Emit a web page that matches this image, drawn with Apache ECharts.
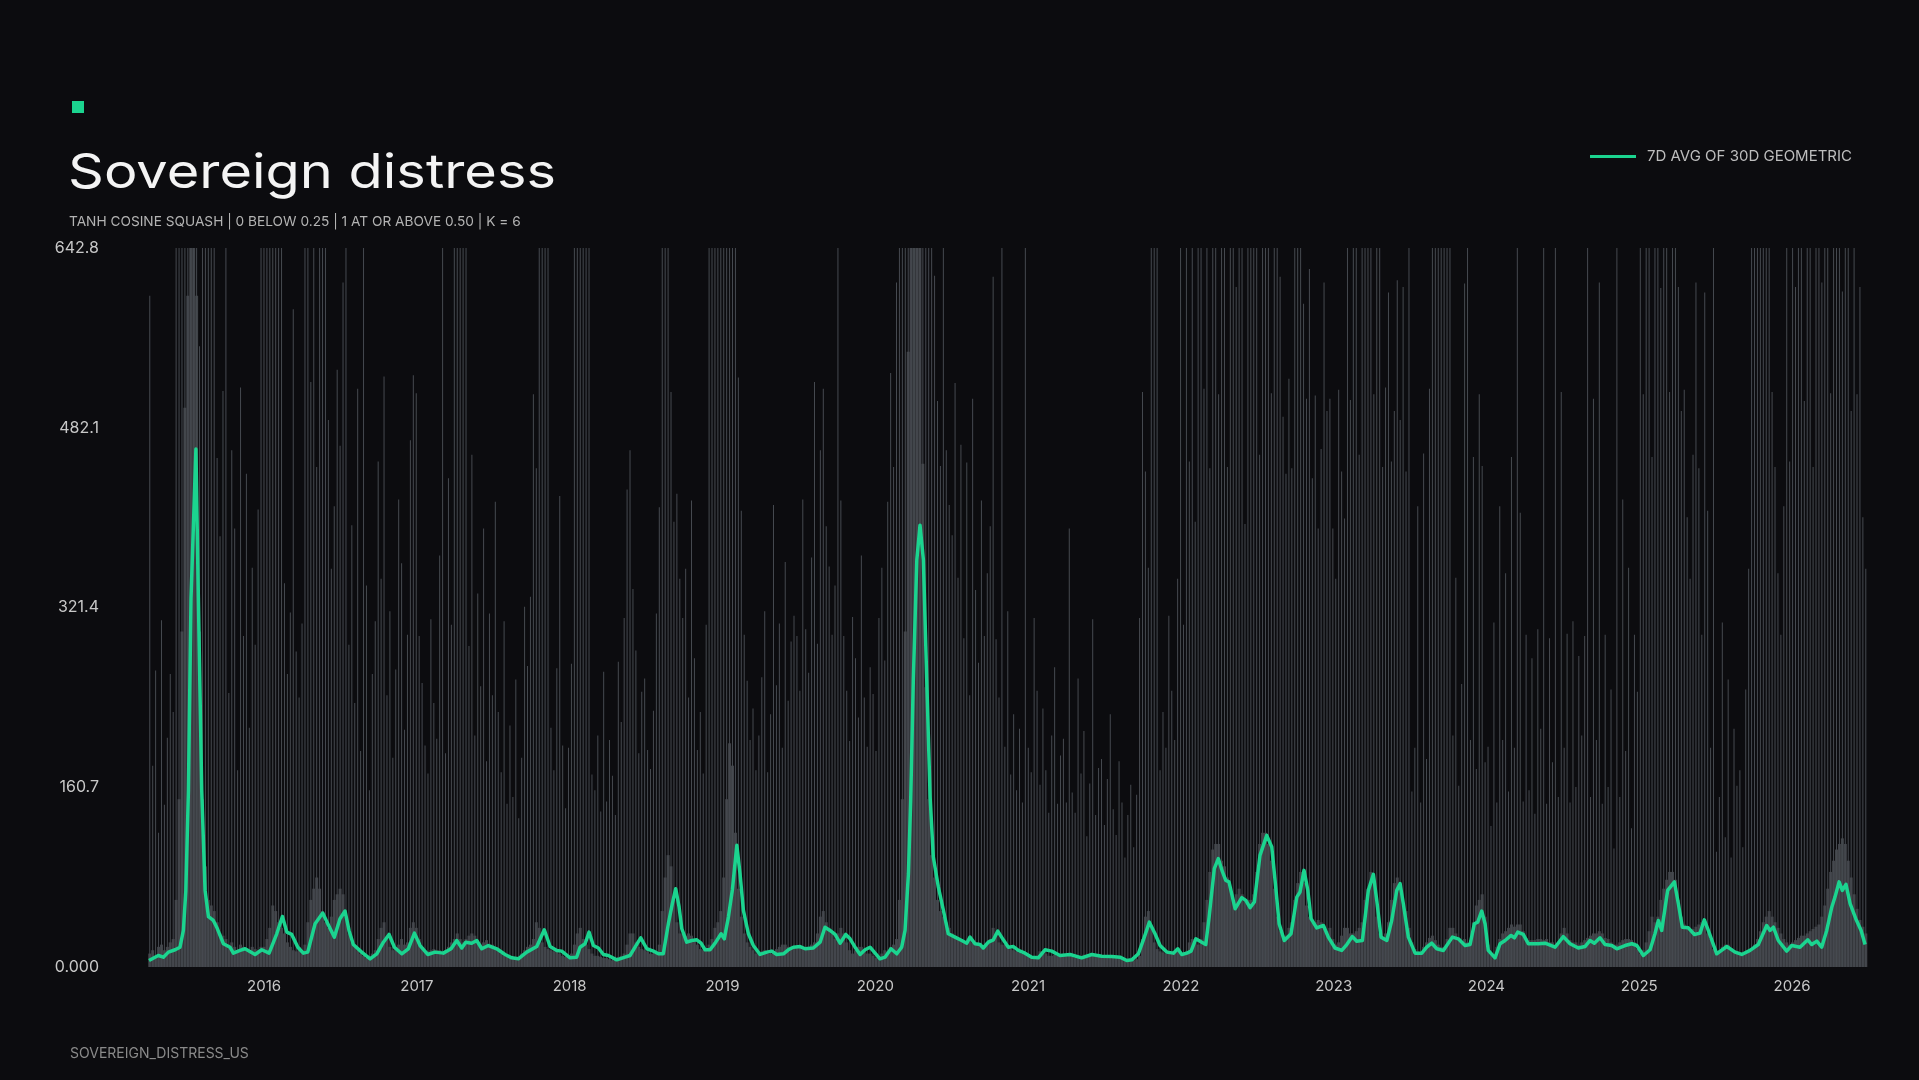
<!DOCTYPE html>
<html>
<head>
<meta charset="utf-8">
<script src="https://cdn.jsdelivr.net/npm/echarts@6/dist/echarts.min.js"></script>
<style>
html,body{margin:0;padding:0;background:#0c0c0f;}
#chart{width:1919px;height:1080px;}
</style>
</head>
<body>
<div id="chart"></div>
<script>
// ---- DATA (decimal years on x) ----
const yTicks = [0, 160.7, 321.4, 482.1, 642.8];
const yearLabels = [2016, 2017, 2018, 2019, 2020, 2021, 2022, 2023, 2024, 2025, 2026];
const xStart = 2015.247, xEnd = 2026.484;

// 7D avg of 30D geometric (green line), read at turning points
const lineT = [2015.247,2015.308,2015.341,2015.374,2015.418,2015.450,2015.472,2015.488,2015.505,2015.522,2015.554,2015.570,2015.592,2015.614,2015.636,2015.668,2015.690,2015.734,2015.777,2015.799,2015.843,2015.876,2015.941,2015.985,2016.033,2016.083,2016.120,2016.149,2016.181,2016.221,2016.257,2016.286,2016.334,2016.384,2016.417,2016.460,2016.497,2016.530,2016.556,2016.584,2016.639,2016.694,2016.738,2016.781,2016.818,2016.853,2016.901,2016.944,2016.984,2017.021,2017.071,2017.119,2017.173,2017.224,2017.261,2017.294,2017.320,2017.359,2017.392,2017.425,2017.468,2017.523,2017.577,2017.621,2017.664,2017.719,2017.785,2017.834,2017.872,2017.916,2017.948,2018.003,2018.046,2018.068,2018.101,2018.127,2018.155,2018.188,2018.221,2018.253,2018.308,2018.363,2018.395,2018.428,2018.465,2018.505,2018.548,2018.581,2018.613,2018.646,2018.672,2018.694,2018.716,2018.734,2018.766,2018.799,2018.832,2018.860,2018.886,2018.919,2018.952,2018.991,2019.012,2019.039,2019.065,2019.094,2019.115,2019.137,2019.170,2019.202,2019.246,2019.290,2019.323,2019.355,2019.399,2019.431,2019.464,2019.508,2019.541,2019.595,2019.639,2019.671,2019.704,2019.737,2019.770,2019.807,2019.835,2019.868,2019.901,2019.933,2019.966,2019.999,2020.031,2020.064,2020.103,2020.141,2020.173,2020.195,2020.217,2020.232,2020.249,2020.272,2020.293,2020.315,2020.337,2020.359,2020.380,2020.413,2020.446,2020.478,2020.522,2020.566,2020.599,2020.620,2020.653,2020.686,2020.707,2020.740,2020.773,2020.802,2020.838,2020.871,2020.904,2020.937,2020.980,2021.024,2021.067,2021.111,2021.155,2021.209,2021.275,2021.351,2021.417,2021.482,2021.548,2021.602,2021.646,2021.679,2021.722,2021.761,2021.794,2021.831,2021.864,2021.908,2021.951,2021.980,2022.006,2022.039,2022.067,2022.098,2022.137,2022.163,2022.185,2022.219,2022.245,2022.272,2022.294,2022.315,2022.355,2022.399,2022.425,2022.453,2022.481,2022.518,2022.562,2022.595,2022.621,2022.643,2022.677,2022.721,2022.759,2022.780,2022.806,2022.831,2022.852,2022.889,2022.933,2022.965,2023.009,2023.053,2023.086,2023.122,2023.151,2023.188,2023.227,2023.260,2023.282,2023.310,2023.348,2023.380,2023.413,2023.435,2023.456,2023.489,2023.533,2023.577,2023.609,2023.642,2023.675,2023.718,2023.777,2023.816,2023.860,2023.893,2023.921,2023.943,2023.969,2023.991,2024.012,2024.056,2024.089,2024.122,2024.161,2024.183,2024.205,2024.241,2024.274,2024.340,2024.384,2024.449,2024.503,2024.547,2024.601,2024.645,2024.678,2024.706,2024.743,2024.776,2024.820,2024.853,2024.907,2024.951,2024.984,2025.027,2025.071,2025.103,2025.125,2025.147,2025.186,2025.230,2025.256,2025.282,2025.321,2025.361,2025.398,2025.426,2025.452,2025.507,2025.573,2025.627,2025.671,2025.725,2025.779,2025.834,2025.856,2025.878,2025.910,2025.965,2025.998,2026.052,2026.103,2026.129,2026.162,2026.194,2026.227,2026.260,2026.281,2026.308,2026.329,2026.353,2026.380,2026.417,2026.452,2026.478];
const lineV = [5.8,10.3,8.8,13.3,15.4,17.7,32.7,68,158,330,463,330,158,68.5,45,41.6,35.6,20.8,17.7,12.4,14.8,16.3,11.2,15.4,12.4,29.7,45.2,31.2,29.1,17.7,12.4,13.3,38.7,48.2,38.7,26.7,43.2,50,32.7,20.1,13.3,7.3,11.8,22.2,29.1,17.7,11.8,16.3,30.3,19.2,11.2,13.3,12.4,16.3,23.7,17,22.2,21.3,23.7,16.3,19.2,16.3,11.2,8.2,7.3,13.3,18.3,33.3,18.3,14.8,14.2,8.2,8.8,17.7,20.8,31.2,19.2,17,11.2,10.3,6.4,8.8,10.3,17.7,26.1,16.3,14.2,11.8,11.8,38.7,56.6,70,53.7,34.2,22.2,23.7,24.3,21.3,15.4,15.4,21.3,29.7,25.2,44.6,69.1,108.8,83.4,50.6,29.7,19.2,11.2,13.3,14.2,11.2,11.8,15.4,17.7,18.3,16.3,17,22.2,35.6,32.7,29.1,21.3,29.1,25.2,17.7,11.2,15.4,17.7,12.4,7.3,8.8,16.3,11.8,17.7,32.7,83.4,149,256.5,364,395,364,256.5,152,98.3,71.4,50.6,29.7,26.7,23.7,21.3,26.7,20.8,20.1,17,22.2,24.3,32.1,24.3,17.7,18.3,14.8,12.4,8.8,8.2,15.4,14.2,10.3,11.2,8.2,11.2,9.7,9.4,8.8,5.8,6.4,11.8,26.7,40.1,29.7,19.2,13.3,12.4,16.3,11.2,12.4,14.2,25.2,22.2,20.1,44.6,87.9,96.9,85.2,77.4,76.1,52.1,62,59.6,53,58.1,99.8,117.7,107.3,71.4,38.7,23.7,29.7,62.5,67,86.4,68.5,43.2,35,37.1,26.7,17,14.8,20.1,27.2,23.1,23.7,68.5,82.8,59.6,26.7,23.7,41.6,68.5,74.5,56.6,26.7,12.4,12.4,17.7,21.3,16.3,14.8,26.7,25.2,19.2,20.1,38.7,40.1,50,38.7,14.8,8.2,20.8,23.7,28.2,26.1,31.2,29.1,20.8,20.8,21.3,17.7,27.2,20.8,17,18.3,23.7,21.3,26.1,20.1,19.2,16.3,19.2,20.8,19.2,10.3,15.4,29.7,41.6,32.7,68.5,76.1,56.6,35.6,35,29.1,30.3,42.2,32.7,11.8,18.3,13.3,11.2,14.8,20.1,37.1,32.7,35.6,23.7,14.2,19.2,17.7,24.3,20.1,23.1,17.7,32.7,53.5,62.5,76.1,68.5,73.9,56.6,43.2,32.7,20.1];

// raw daily distress, summarised per week: first week centred at weekStart
const weekStart = 2015.252;
const weekStep = 7 / 365.25;
// highest daily value seen in each week (values above 642.8 are clipped by the axis)
const weekHigh = [
600,180,265,120,310,145,205,262,228,700,700,700,700,
700,700,700,700,555,700,700,700,700,700,455,385,515,
700,245,462,392,176,518,296,441,214,357,288,409,700,
700,700,700,700,700,700,700,343,262,317,588,282,241,
307,700,700,523,700,447,700,700,700,489,356,412,534,
466,612,700,288,395,236,517,193,700,341,158,262,309,
452,347,528,243,318,187,266,418,361,212,297,471,529,
513,296,254,198,173,311,236,204,368,700,191,437,306,
700,700,700,700,700,287,458,207,334,251,392,184,316,
243,416,228,174,309,146,216,152,257,133,187,322,269,
331,512,446,700,700,700,700,214,176,267,421,198,142,
196,271,700,700,700,700,700,700,172,158,207,139,264,
148,203,171,136,273,219,312,427,462,338,283,191,246,
258,194,177,229,316,411,700,700,700,514,398,423,347,
312,356,241,417,276,194,228,173,306,700,700,700,700,
700,700,700,700,700,700,527,408,297,256,203,231,176,
207,259,318,174,226,413,252,307,196,362,238,291,314,
296,247,418,302,263,366,523,289,462,517,394,358,297,
341,700,417,296,247,202,313,276,223,368,241,197,268,
244,193,312,357,274,416,531,447,612,700,700,700,700,
700,700,700,700,700,700,700,700,618,506,448,700,462,
413,386,522,348,467,294,451,243,508,337,272,417,296,
352,394,617,293,241,700,197,318,172,226,158,213,147,
700,196,174,312,247,163,231,176,138,207,268,146,189,
204,147,392,156,138,258,173,211,117,164,311,136,178,
186,127,168,226,141,118,184,147,98,136,163,107,154,
312,514,443,357,700,700,700,176,228,196,314,247,203,
347,700,306,700,452,700,398,700,700,517,700,446,700,
700,512,700,700,447,700,700,608,700,700,396,700,700,
700,700,458,700,700,700,513,700,700,617,492,441,526,
446,700,700,700,593,508,624,437,511,392,463,612,497,
508,392,347,516,443,401,700,507,700,700,458,700,700,
700,700,512,700,700,447,518,603,452,497,614,489,608,
443,700,157,196,412,147,459,186,517,700,700,700,700,
700,700,700,207,348,162,253,611,700,203,456,177,512,
448,183,197,126,308,147,412,203,352,157,456,196,700,
406,148,297,158,276,137,302,213,700,146,294,183,700,
152,514,196,298,147,309,161,278,207,296,700,152,508,
203,612,146,297,161,248,106,700,152,418,193,357,124,
297,246,700,512,700,700,456,700,700,607,700,700,514,
700,700,608,497,516,402,347,458,612,446,297,603,408,
196,700,103,152,308,116,257,98,213,162,176,107,248,
356,700,700,700,700,700,700,700,514,447,352,297,412,
700,452,700,608,700,700,506,700,700,447,700,700,612,
700,700,513,700,700,700,604,700,700,497,700,512,608,402,356];
// typical daily level in each week (the dense grey mass)
const weekTypical = [
12,15,10,18,20,15,18,22,25,60,150,300,500,
600,650,700,600,300,150,90,60,55,50,40,30,28,
25,20,22,18,15,20,18,15,14,18,16,15,18,
18,25,35,55,50,40,35,30,22,18,15,14,18,
15,20,40,60,70,80,70,50,40,35,45,60,65,
70,65,45,30,22,18,15,12,10,8,10,12,15,
25,35,40,25,18,15,16,20,25,20,22,35,40,
35,25,18,14,14,15,16,15,15,14,15,18,22,
25,30,25,22,25,28,30,28,22,20,22,24,20,
20,18,15,12,10,9,8,8,8,9,12,15,18,
20,25,40,35,22,18,16,15,14,15,12,10,9,
10,12,20,30,35,25,20,16,12,10,10,9,8,
8,7,6,7,9,10,12,20,30,30,22,18,16,
15,14,12,12,12,20,50,80,100,90,60,40,30,
30,28,30,28,25,20,16,15,16,20,25,35,40,
50,80,150,200,180,120,70,45,30,22,18,15,12,
12,14,15,12,12,14,16,18,20,20,18,18,18,
18,18,17,16,18,20,22,30,45,50,40,35,30,
25,30,35,30,22,15,12,15,18,18,15,12,12,
10,8,9,12,15,14,18,20,25,60,150,300,550,
700,700,700,650,450,250,150,100,80,60,50,45,40,
35,30,28,25,25,22,22,24,22,20,20,18,18,
22,25,35,30,22,20,20,18,16,15,14,13,12,
12,10,9,8,10,14,14,12,10,10,11,10,10,
11,10,10,9,8,9,10,11,11,10,10,10,9,
10,9,9,9,9,9,8,8,7,6,6,6,7,
10,25,45,50,35,22,16,14,13,12,14,14,13,
14,12,12,14,22,25,22,20,25,40,60,85,105,
110,110,95,90,80,70,60,65,70,65,60,60,60,
65,85,110,120,120,110,95,70,45,32,28,28,35,
40,60,75,85,75,55,45,40,40,42,40,36,32,
35,25,20,22,28,35,35,30,30,32,35,40,60,
70,85,75,45,30,26,30,40,60,75,80,70,55,
50,35,22,16,14,13,18,22,26,28,24,20,18,
18,25,35,35,30,25,22,25,22,24,40,55,60,
65,45,20,12,10,18,25,30,32,35,38,36,38,
38,32,26,24,24,24,25,25,24,25,22,22,20,
22,30,35,30,24,22,22,20,22,24,26,28,30,
30,32,30,26,25,22,20,20,22,24,25,25,24,
22,16,12,15,22,32,45,40,45,60,70,78,85,
85,78,60,45,38,34,32,34,36,38,40,36,30,
25,16,14,15,18,20,20,17,15,14,13,12,12,
14,16,20,25,32,40,45,50,45,40,35,30,25,
22,20,22,24,26,28,28,30,32,34,36,38,45,
55,70,85,95,105,110,115,110,95,80,65,52,42,36,30];

// ---- CHART ----
const GREEN = '#1bd48f';
const FONT = 'Inter, "Noto Sans", sans-serif';
const chart = echarts.init(document.getElementById('chart'), null, {renderer: 'canvas'});

const highData = weekHigh.map((v, i) => [weekStart + i * weekStep, v]);
const typData = weekTypical.map((v, i) => [weekStart + i * weekStep, v]);
const lineData = lineT.map((t, i) => [t, lineV[i]]);

const xAxisBase = {
  type: 'value', min: xStart, max: xEnd,
  axisLine: {show: false}, axisTick: {show: false}, splitLine: {show: false}
};

chart.setOption({
  backgroundColor: '#0c0c0f',
  animation: false,
  title: [
    {text: 'TANH COSINE SQUASH | 0 BELOW 0.25 | 1 AT OR ABOVE 0.50 | K = 6', left: 69, top: 215, padding: 0,
     textStyle: {color: '#b3b3b3', fontSize: 13.7, fontWeight: 400, fontFamily: FONT}},
    {text: 'SOVEREIGN_DISTRESS_US', left: 70, top: 1047, padding: 0,
     textStyle: {color: '#8a8a8a', fontSize: 14, fontWeight: 400, fontFamily: FONT}}
  ],
  graphic: [
    {type: 'rect', x: 72, y: 101, shape: {x: 0, y: 0, width: 12, height: 12}, style: {fill: GREEN}},
    {type: 'text', x: 68, y: 174, scaleX: 1.165, scaleY: 1,
     style: {text: 'Sovereign distress', fill: '#f4f4f4', fontSize: 48, fontWeight: 400,
             fontFamily: FONT, verticalAlign: 'middle', align: 'left'}}
  ],
  legend: {
    data: ['7D AVG OF 30D GEOMETRIC'],
    right: 67, top: 149, padding: 0,
    icon: 'rect', itemWidth: 46, itemHeight: 3,
    textStyle: {color: '#bdbdbd', fontSize: 15, fontFamily: FONT, padding: [0, 0, 0, 6]}
  },
  grid: {left: 149, right: 53, top: 248, bottom: 113},
  xAxis: [
    Object.assign({}, xAxisBase, {
      axisLabel: {
        customValues: yearLabels,
        formatter: v => String(Math.round(v)),
        color: '#c8c8c8', fontSize: 15, fontFamily: FONT, margin: 12
      }
    }),
    Object.assign({}, xAxisBase, {show: false})
  ],
  yAxis: {
    type: 'value', min: yTicks[0], max: yTicks[yTicks.length - 1], interval: yTicks[1],
    axisLine: {show: false}, axisTick: {show: false}, splitLine: {show: false},
    axisLabel: {
      formatter: v => (v === 0 ? '0.000' : v.toFixed(1)),
      color: '#c8c8c8', fontSize: 16, fontFamily: FONT, margin: 50
    }
  },
  series: [
    {name: 'typical', type: 'bar', xAxisIndex: 1, data: typData, barWidth: 3,
     itemStyle: {color: '#404348'}, silent: true, z: 1},
    {name: 'high', type: 'bar', xAxisIndex: 0, data: highData, barWidth: 1,
     itemStyle: {color: '#464a50'}, silent: true, z: 2},
    {name: '7D AVG OF 30D GEOMETRIC', type: 'line', xAxisIndex: 0, data: lineData,
     color: GREEN, showSymbol: false, symbol: 'none', smooth: false,
     lineStyle: {color: GREEN, width: 3.5, join: 'round'}, z: 5}
  ]
});
</script>
</body>
</html>
